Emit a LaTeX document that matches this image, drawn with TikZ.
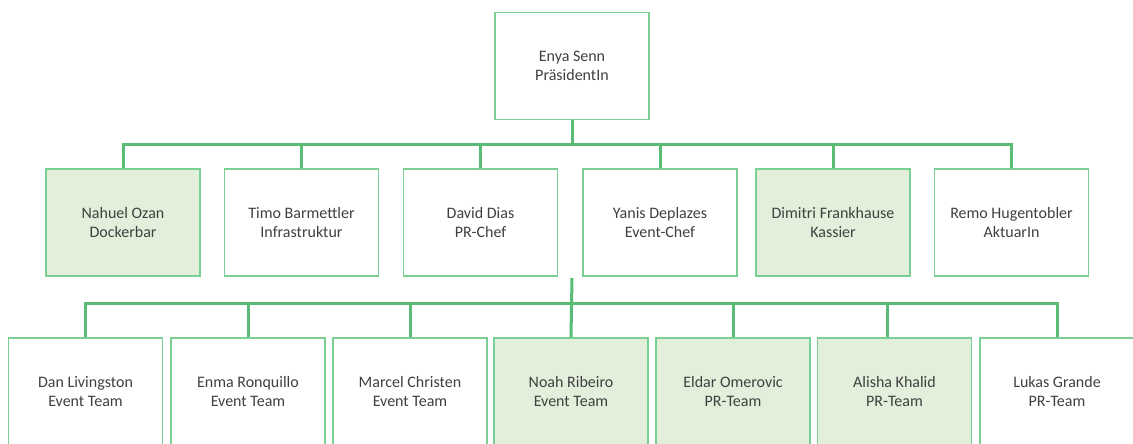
\documentclass[tikz,border=0pt]{standalone}
\usepackage{fontspec}
\setmainfont{Carlito}
\definecolor{linegreen}{HTML}{58BC74}
\definecolor{boxgreen}{HTML}{7ACF93}
\definecolor{fillgreen}{HTML}{E2EFDA}
\definecolor{txt}{HTML}{404040}
\tikzset{
  person/.style={draw=boxgreen, line width=1.6pt, fill=white, minimum width=154pt,
    minimum height=107pt, inner sep=0pt, align=center, text=txt,
    font=\fontsize{16}{19}\selectfont},
  shaded/.style={fill=fillgreen},
  conn/.style={draw=linegreen, line width=3pt}
}
\begin{document}
\begin{tikzpicture}[x=1pt,y=-1pt]
\useasboundingbox (0,0) rectangle (1133,444);
% nodes
\node[person] (enya) at (572,66) {Enya Senn\\PräsidentIn};
\node[person,shaded] (nahuel) at (123,222.5) {Nahuel Ozan\\Dockerbar};
\node[person] (timo) at (301.5,222.5) {Timo Barmettler\\Infrastruktur};
\node[person] (david) at (480.5,222.5) {David Dias\\PR-Chef};
\node[person] (yanis) at (660,222.5) {Yanis Deplazes\\Event-Chef};
\node[person,shaded] (dimitri) at (833,222.5) {Dimitri Frankhause\\Kassier};
\node[person] (remo) at (1011.5,222.5) {Remo Hugentobler\\AktuarIn};
\node[person] (dan) at (85.5,391.5) {Dan Livingston\\Event Team};
\node[person] (enma) at (248,391.5) {Enma Ronquillo\\Event Team};
\node[person] (marcel) at (410,391.5) {Marcel Christen\\Event Team};
\node[person,shaded] (noah) at (571,391.5) {Noah Ribeiro\\Event Team};
\node[person,shaded] (eldar) at (733,391.5) {Eldar Omerovic\\PR-Team};
\node[person,shaded] (alisha) at (894.5,391.5) {Alisha Khalid\\PR-Team};
\node[person] (lukas) at (1057,391.5) {Lukas Grande\\PR-Team};
% bus coordinates
\coordinate (busA) at (572,144);
\coordinate (busB) at (572,303);
\coordinate (trunkB) at (572,278);
% level 1 -> 2
\draw[conn] (enya.south) -- (busA);
\draw[conn] (nahuel.north) |- (busA);
\draw[conn] (remo.north) |- (busA);
\foreach \n in {timo,david,yanis,dimitri}
  \draw[conn] (\n.north) -- (\n.north |- busA);
% level 2 -> 3
\draw[conn] (trunkB) -- (noah.north);
\draw[conn] (dan.north) |- (busB);
\draw[conn] (lukas.north) |- (busB);
\foreach \n in {enma,marcel,eldar}
  \draw[conn] (\n.north) -- (\n.north |- busB);
\draw[conn] ([xshift=-7.5pt]alisha.north) -- ([xshift=-7.5pt]alisha.north |- busB);
\end{tikzpicture}
\end{document}
